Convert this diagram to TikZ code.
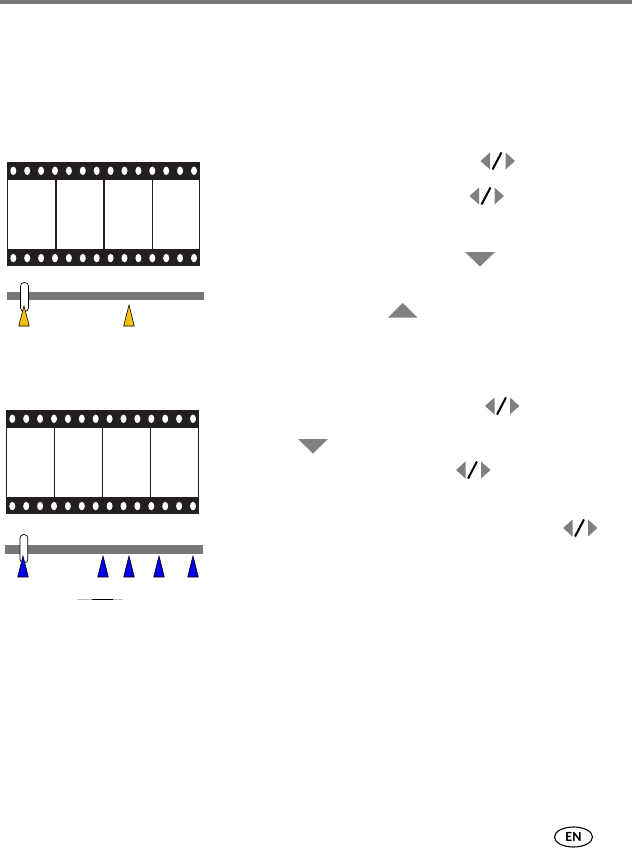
\documentclass[tikz,border=0pt]{standalone}
\usepackage{fontspec}
\setmainfont{Carlito}
\usetikzlibrary{shapes.geometric}
\definecolor{filmblack}{HTML}{231F20}
\definecolor{bargray}{HTML}{777777}
\definecolor{icongray}{HTML}{808080}
\definecolor{markyellow}{HTML}{F4C20D}
\definecolor{markblue}{HTML}{0000E6}
\tikzset{
  x=1pt,y=-1pt,
  band/.style={fill=filmblack,draw=none},
  perfhole/.style={fill=white,draw=none},
  divider/.style={draw=filmblack,line width=0.9pt},
  barfill/.style={fill=bargray,draw=none},
  iconfill/.style={fill=icongray,draw=none},
  slash/.style={draw=black,line width=2pt},
  sliderbox/.style={fill=white,draw=black,line width=0.7pt,rounded corners=3.6pt},
  marker/.style={draw=black,line width=0.6pt,line join=miter},
}
\newcommand{\filmstrip}[7]{%
  \fill[band] (#1,#2) rectangle ++(193,18);
  \fill[band] (#1,#2+87) rectangle ++(193,17);
  \foreach \i in {0,...,13} {
    \fill[perfhole] ({#1+6.3+13.9*\i},#2+8.8) ellipse (3 and 4.2);
    \fill[perfhole] ({#1+6.3+13.9*\i},#2+96.1) ellipse (3 and 4.2);
  }
  \draw[divider,line width=#6] (#1+0.6,#2+18) -- (#1+0.6,#2+87);
  \draw[divider,line width=#6] (#3,#2+18) -- (#3,#2+87);
  \draw[divider,line width=#6] (#4,#2+18) -- (#4,#2+87);
  \draw[divider,line width=#7] (#5,#2+18) -- (#5,#2+87);
  \draw[divider,line width=0.8pt] (#1+192.4,#2+18) -- (#1+192.4,#2+87);
}
\newcommand{\lrkeys}[2]{%
  \fill[iconfill] (#1,#2+9) -- (#1+9.5,#2+0.5) -- (#1+9.5,#2+17.5) -- cycle;
  \fill[iconfill] (#1+34.5,#2+9) -- (#1+25,#2+0.5) -- (#1+25,#2+17.5) -- cycle;
  \draw[slash] (#1+12,#2+17.5) -- (#1+21,#2+0.5);
}
\newcommand{\marktri}[4]{%
  \filldraw[marker,fill=#4] (#1-5.3,#3) -- (#1,#2) -- (#1+5.3,#3) -- cycle;
}
\begin{document}
\begin{tikzpicture}
\useasboundingbox (0,0) rectangle (632,848);
\fill[white] (0,0) rectangle (632,848);
\fill[barfill] (0,0) rectangle (632,4);
% first film strip
\filmstrip{7}{162}{56}{104}{152}{1.2pt}{0.8pt}
\fill[barfill] (7,292) rectangle (204,300);
\marktri{129}{305}{326}{markyellow}
\draw[sliderbox] (20.5,282.5) rectangle (28.5,311.5);
\marktri{24}{306}{326}{markyellow}
% second film strip
\filmstrip{6}{410}{54.5}{102.5}{150.5}{0.8pt}{0.8pt}
\fill[barfill] (5,545) rectangle (203,554);
\foreach \mx in {103,129,159,193} {\marktri{\mx}{556}{577}{markblue}}
\draw[sliderbox] (20,534.5) rectangle (27.8,563);
\marktri{23}{556}{577}{markblue}
% rule under second strip
\draw[gray!50,line width=0.7pt] (77,599.5) -- (123,599.5);
\draw[black,line width=0.9pt] (92,599.5) -- (113,599.5);
% key icons
\lrkeys{480.5}{152}
\lrkeys{469.5}{187}
\lrkeys{485}{397}
\lrkeys{456}{461}
\lrkeys{563}{519}
\fill[iconfill] (465,252) -- (495,252) -- (480,266.5) -- cycle;
\fill[iconfill] (388,317.5) -- (417.5,317.5) -- (402.7,303) -- cycle;
\fill[iconfill] (298,439) -- (328,439) -- (313,453.5) -- cycle;
% language badge
\node[draw=black,line width=1.1pt,ellipse,minimum width=38pt,minimum height=20pt,inner sep=0pt,font=\bfseries\fontsize{14}{14}\selectfont] (en) at (573.5,837) {EN};
\end{tikzpicture}
\end{document}
